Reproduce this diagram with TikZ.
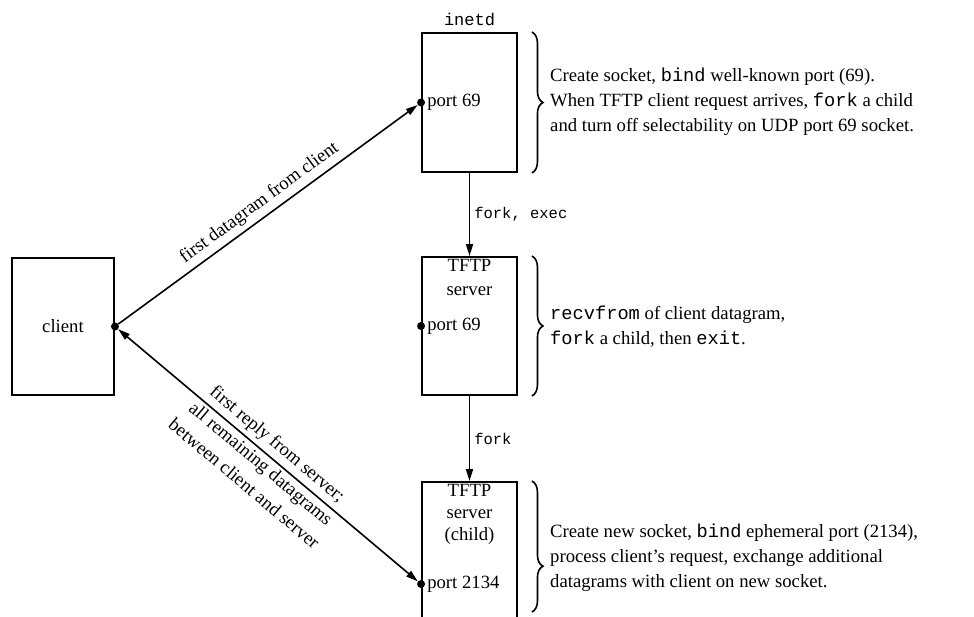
\documentclass[tikz,border=0pt]{standalone}
\usepackage{fontspec}
\setmainfont{Liberation Serif}
\setmonofont{Liberation Mono}
\usetikzlibrary{arrows.meta,decorations.pathreplacing,calc}
\begin{document}
\begin{tikzpicture}[x=1pt,y=-1pt,
  box/.style={draw, line width=1.9pt, minimum width=95pt, inner sep=0pt},
  conn/.style={line width=1.6pt},
  tipend/.style={-{Triangle[length=12pt,width=7pt]}},
  tipboth/.style={{Triangle[length=12pt,width=7pt]}-{Triangle[length=12pt,width=7pt]}},
  portdot/.style={circle, fill, inner sep=0pt, minimum size=8pt},
  txt/.style={font=\fontsize{18.7}{25}\selectfont, align=left, inner sep=0pt},
  mono/.style={font=\fontsize{15.5}{22}\selectfont\ttfamily, inner sep=0pt},
  brc/.style={decorate, decoration={brace, amplitude=11pt}, line width=1.6pt},
]
\clip (0,0) rectangle (974,617);

% boxes
\node[box, minimum width=102pt, minimum height=137pt, txt] (client) at (63,326.5) {client};
\node[box, minimum height=139pt] (inetd) at (469.5,102.5) {};
\node[mono, anchor=south, font=\fontsize{17}{22}\selectfont\ttfamily] (inetdlbl) at ([yshift=6pt]inetd.north) {inetd};
\node[box, minimum height=138pt] (srv) at (469.5,326) {};
\node[box, minimum height=200pt] (chd) at (469.5,582) {};

% box texts
\node[txt, align=center, anchor=north, font=\fontsize{18.7}{24}\selectfont] (srvt) at ([yshift=-3pt]srv.north) {TFTP\\server};
\node[txt, align=center, anchor=north, font=\fontsize{18.7}{22}\selectfont] (chdt) at ([yshift=-3pt]chd.north) {TFTP\\server\\(child)};

% ports
\node[portdot] (cd) at (client.east) {};
\node[portdot] (p1) at (inetd.west) {};
\node[portdot] (p2) at (srv.west) {};
\coordinate (p3c) at ($(chd.north west)+(0,103)$);
\node[portdot] (p3) at (p3c) {};
\node[txt, anchor=west] (p1t) at ([xshift=6pt]p1.center) {port 69};
\node[txt, anchor=west] (p2t) at ([xshift=6pt]p2.center) {port 69};
\node[txt, anchor=west] (p3t) at ([xshift=6pt]p3.center) {port 2134};

% connectors
\draw[conn, tipend] (cd) -- (p1)
  node[midway, sloped, above=5pt, txt] (lbl1) {first datagram from client};
\draw[conn, tipboth] (cd) -- (p3)
  node[midway, sloped, yshift=-10.5pt, txt, align=center, font=\fontsize{18.7}{26}\selectfont] (lbl2)
  {first reply from server;\\all remaining datagrams\\between client and server};
\draw[conn, tipend] (inetd.south) -- (srv.north)
  node[midway, right=4pt, mono] (fe) {fork, exec};
\draw[conn, tipend] (srv.south) -- (chd.north)
  node[midway, right=4pt, mono] (fk) {fork};

% braces
\draw[brc] ([xshift=14pt]inetd.north east) -- ([xshift=14pt]inetd.south east);
\draw[brc] ([xshift=14pt]srv.north east) -- ([xshift=14pt]srv.south east);
\draw[brc, decoration={brace, amplitude=11pt, aspect=0.65}] ([xshift=14pt]chd.north east) -- ++(0,131);

% descriptions
\node[txt, anchor=west] (d1) at (550,102) {Create socket, \texttt{bind} well-known port (69).\\When TFTP client request arrives, \texttt{fork} a child\\and turn off selectability on UDP port 69 socket.};
\node[txt, anchor=west] (d2) at (550,326.5) {\texttt{recvfrom} of client datagram,\\\texttt{fork} a child, then \texttt{exit}.};
\node[txt, anchor=west] (d3) at (550,558) {Create new socket, \texttt{bind} ephemeral port (2134),\\process client's request, exchange additional\\datagrams with client on new socket.};
\end{tikzpicture}
\end{document}
